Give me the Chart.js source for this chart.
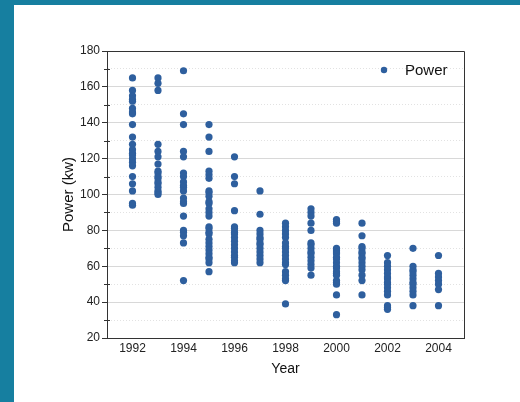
<!DOCTYPE html>
<html><head><meta charset="utf-8">
<script src="https://cdn.jsdelivr.net/npm/chart.js@4"></script>
<style>
html,body{margin:0;padding:0;background:#fff;width:520px;height:402px;overflow:hidden}
#wrap{position:absolute;left:0;top:0;width:520px;height:402px}
.band-top{position:absolute;left:0;top:0;width:520px;height:5px;background:#167fa0}
.band-left{position:absolute;left:0;top:0;width:14px;height:402px;background:#167fa0}
</style></head><body>
<div id="wrap"><canvas id="c" width="520" height="402"></canvas></div>
<div class="band-top"></div><div class="band-left"></div>
<script>
const seriesLabel = 'Power';
const years = [1992,1993,1994,1995,1996,1997,1998,1999,2000,2001,2002,2003,2004];
const power1992 = [165,158,155,153,152,148,146,145,139,132,128,125,123,122,120,118,116,110,106,102,95,94];
const power1993 = [165,162,158,128,124,121,117,113,112,110,109,107,106,104,102,101,100];
const power1994 = [169,145,139,124,121,112,110,107,105,104,102,98,96,95,88,80,79,77,73,52];
const power1995 = [139,132,124,113,111,109,102,101,99,96,95,92,90,88,82,81,79,78,75,73,71,69,67,65,64,62,57];
const power1996 = [121,110,106,91,82,81,79,78,76,74,72,70,68,66,65,63,62];
const power1997 = [102,89,80,78,76,75,73,72,70,68,66,64,62];
const power1998 = [84,82,80,78,76,73,71,70,68,66,64,62,61,57,55,53,52,39];
const power1999 = [92,90,88,84,80,73,72,70,68,67,65,63,61,59,55];
const power2000 = [86,85,84,70,69,68,67,65,64,62,60,59,57,56,55,52,51,50,44,33];
const power2001 = [84,77,71,70,68,67,65,64,62,60,58,55,52,44];
const power2002 = [66,62,60,58,56,54,53,51,50,48,46,44,38,37,36];
const power2003 = [70,60,58,57,55,53,51,50,48,46,44,38];
const power2004 = [66,56,54,52,50,47,38];
const powerLists = [power1992,power1993,power1994,power1995,power1996,power1997,power1998,power1999,power2000,power2001,power2002,power2003,power2004];
const yTickValues = [20,30,40,50,60,70,80,90,100,110,120,130,140,150,160,170,180];
const yTicksMajor = [20,40,60,80,100,120,140,160,180];
const xTickYears = [1992,1994,1996,1998,2000,2002,2004];

const points = [];
years.forEach((yr, i) => powerLists[i].forEach(v => points.push({x: yr, y: v})));

const dotColor = '#2e5f9e';
const FONT = "'Liberation Sans', Arial, sans-serif";
const isMinor = c => c.tick && !yTicksMajor.includes(c.tick.value);

const framePlugin = {
  id: 'frame',
  afterDraw(chart) {
    const {ctx, chartArea: a, scales} = chart;
    ctx.save();
    ctx.strokeStyle = '#333';
    ctx.lineWidth = 1;
    ctx.beginPath();
    ctx.moveTo(a.left, a.top + 0.5); ctx.lineTo(a.right + 0.5, a.top + 0.5);
    ctx.lineTo(a.right + 0.5, a.bottom);
    ctx.stroke();
    const ys = scales.y;
    ctx.beginPath();
    yTickValues.filter(v => !yTicksMajor.includes(v)).forEach(v => {
      const py = Math.round(ys.getPixelForValue(v)) + 0.5;
      ctx.moveTo(a.left - 3, py); ctx.lineTo(a.left + 3, py);
    });
    ctx.stroke();
    const lx = a.left + 277, ly = a.top + 19;
    ctx.fillStyle = dotColor;
    ctx.beginPath(); ctx.arc(lx, ly, 3.2, 0, Math.PI * 2); ctx.fill();
    ctx.fillStyle = '#111';
    ctx.font = '15px ' + FONT;
    ctx.textBaseline = 'middle';
    ctx.textAlign = 'left';
    ctx.fillText(chart.data.datasets[0].label, lx + 21, ly + 1);
    ctx.restore();
  }
};

new Chart(document.getElementById('c'), {
  type: 'scatter',
  data: { datasets: [{ label: seriesLabel, data: points, backgroundColor: dotColor, borderColor: dotColor, borderWidth: 0, pointRadius: 3.6, pointHoverRadius: 3.6 }] },
  options: {
    responsive: false,
    devicePixelRatio: 1,
    animation: false,
    events: [],
    layout: { padding: { top: 51, right: 56, bottom: 0, left: 0 } },
    plugins: { legend: { display: false }, tooltip: { enabled: false } },
    scales: {
      x: {
        type: 'linear', min: 1991, max: 2005,
        afterBuildTicks: s => { s.ticks = xTickYears.map(v => ({ value: v })); },
        ticks: { padding: 3, autoSkip: false, maxRotation: 0, color: '#222', font: { family: FONT, size: 12 },
          callback: v => String(v) },
        grid: { display: false, drawTicks: false, tickLength: 0 },
        border: { display: true, color: '#333', width: 1 },
        title: { display: true, text: 'Year', color: '#111', font: { family: FONT, size: 14 }, padding: { top: 0, bottom: 24 } },
        afterFit: s => { s.height = 64; }
      },
      y: {
        min: 20, max: 180,
        afterBuildTicks: s => { s.ticks = yTickValues.map(v => ({ value: v })); },
        ticks: { padding: 2, autoSkip: false, color: '#222', font: { family: FONT, size: 12 },
          callback: v => yTicksMajor.includes(v) ? String(v) : '' },
        grid: {
          color: c => isMinor(c) ? '#e2e2e2' : '#d8d8d8',
          tickColor: c => isMinor(c) ? 'rgba(0,0,0,0)' : '#333',
          tickLength: 5, lineWidth: 1
        },
        border: { display: true, color: '#333', width: 1, dash: c => isMinor(c) ? [1, 2] : [] },
        title: { display: true, text: 'Power (kw)', color: '#111', font: { family: FONT, size: 15 }, padding: { top: 60, bottom: 0 } },
        afterFit: s => { s.width = 107; }
      }
    }
  },
  plugins: [framePlugin]
});
</script>
</body></html>
